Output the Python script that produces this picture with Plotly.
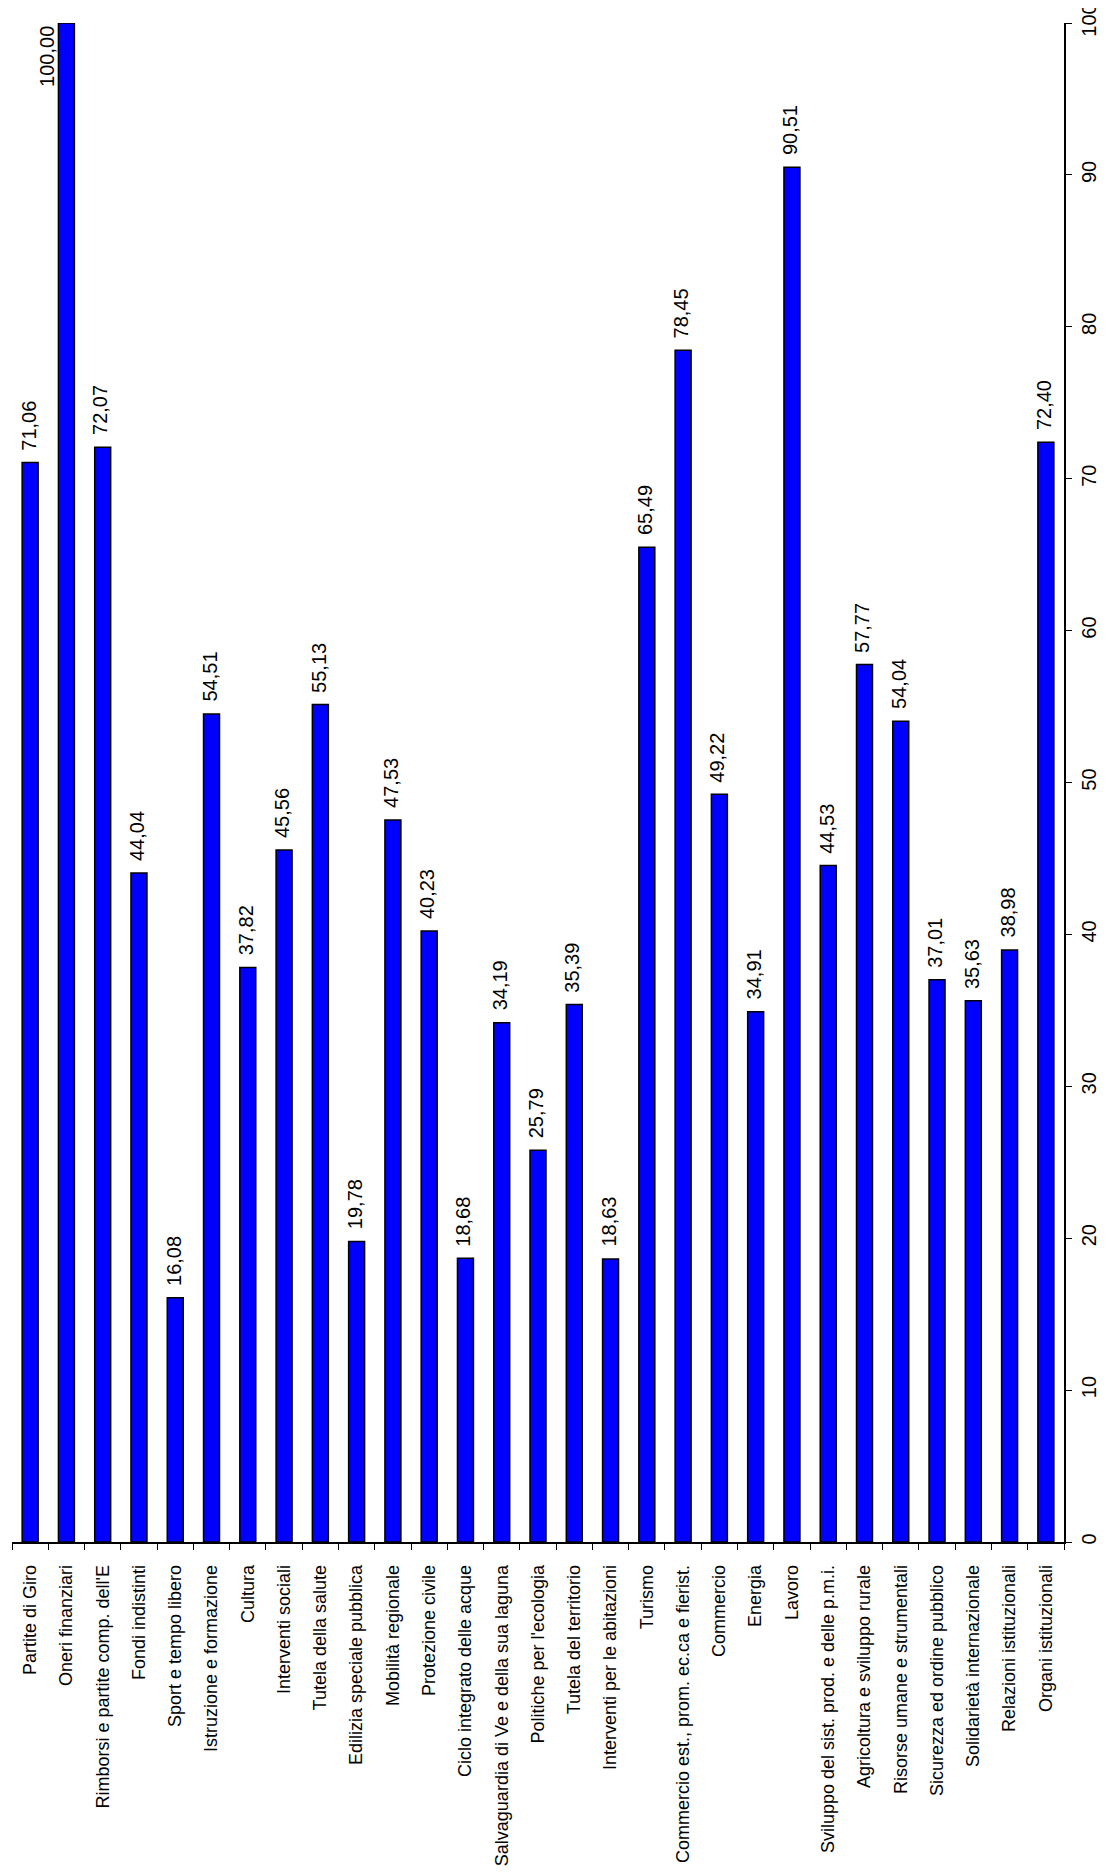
import plotly.graph_objects as go

categories = [
    "Partite di Giro",
    "Oneri finanziari",
    "Rimborsi e partite comp. dell'E",
    "Fondi indistinti",
    "Sport e tempo libero",
    "Istruzione e formazione",
    "Cultura",
    "Interventi sociali",
    "Tutela della salute",
    "Edilizia speciale pubblica",
    "Mobilità regionale",
    "Protezione civile",
    "Ciclo integrato delle acque",
    "Salvaguardia di Ve e della sua laguna",
    "Politiche per l'ecologia",
    "Tutela del territorio",
    "Interventi per le abitazioni",
    "Turismo",
    "Commercio est., prom. ec.ca e fierist.",
    "Commercio",
    "Energia",
    "Lavoro",
    "Sviluppo del sist. prod. e delle p.m.i.",
    "Agricoltura e sviluppo rurale",
    "Risorse umane e strumentali",
    "Sicurezza ed ordine pubblico",
    "Solidarietà internazionale",
    "Relazioni istituzionali",
    "Organi istituzionali",
]
values = [71.06, 100.00, 72.07, 44.04, 16.08, 54.51, 37.82, 45.56, 55.13, 19.78,
          47.53, 40.23, 18.68, 34.19, 25.79, 35.39, 18.63, 65.49, 78.45, 49.22,
          34.91, 90.51, 44.53, 57.77, 54.04, 37.01, 35.63, 38.98, 72.40]
y_ticks = [0, 10, 20, 30, 40, 50, 60, 70, 80, 90, 100]

FONT = "Liberation Sans, Arial, sans-serif"

fig = go.Figure()
fig.add_trace(go.Bar(
    x=categories, y=values, width=0.44,
    marker=dict(color="#0000FF", line=dict(color="#000000", width=1.5)),
    hoverinfo="x+y",
))

ymax = max(y_ticks)
annotations = []
for c, v in zip(categories, values):
    txt = f"{v:.2f}".replace(".", ",")
    if v >= ymax:
        annotations.append(dict(x=c, y=v, text=txt, textangle=-90, showarrow=False,
                                xanchor="center", yanchor="top", xshift=-20, yshift=-1,
                                font=dict(family=FONT, size=20, color="#000")))
    else:
        annotations.append(dict(x=c, y=v, text=txt, textangle=-90, showarrow=False,
                                xanchor="center", yanchor="bottom", xshift=-2, yshift=10,
                                font=dict(family=FONT, size=20, color="#000")))

# page body has an 8px margin, so the figure is sized to fit the window without scrollbars
fig.update_layout(
    width=1098, height=1858,
    margin=dict(l=4, r=42, t=15, b=324),
    paper_bgcolor="white", plot_bgcolor="white",
    showlegend=False,
    bargap=0.56,
    font=dict(family=FONT, color="#000"),
    annotations=annotations,
    xaxis=dict(
        type="category", tickangle=-90, tickson="boundaries",
        ticks="outside", ticklen=6, tickwidth=1, tickcolor="#000",
        showline=True, linecolor="#000", linewidth=1.5,
        showgrid=False, zeroline=False, automargin=False,
        tickfont=dict(family=FONT, size=18, color="#000"),
        ticklabelstandoff=14,
    ),
    yaxis=dict(
        side="right", range=[0, 100], tickvals=y_ticks,
        ticktext=[str(t) for t in y_ticks], tickangle=-90,
        ticks="outside", ticklen=6, tickwidth=1, tickcolor="#000",
        showline=True, linecolor="#000", linewidth=1.5,
        showgrid=False, zeroline=False, automargin=False,
        tickfont=dict(family=FONT, size=20, color="#000"),
        ticklabelstandoff=0,
        ticklabeloverflow="allow",
    ),
)

fig.write_html("out.html")
